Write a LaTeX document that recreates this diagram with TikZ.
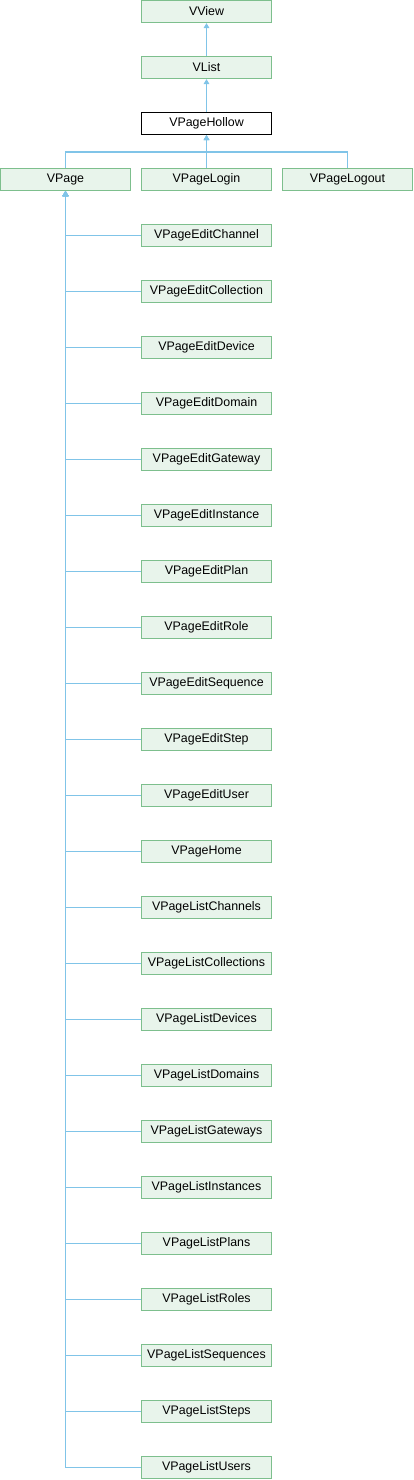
\documentclass[tikz,border=0pt]{standalone}
\usepackage{fontspec}
\setmainfont{Liberation Sans}
\usetikzlibrary{arrows.meta}
\definecolor{edgecol}{HTML}{80C4E8}
\definecolor{boxdraw}{HTML}{7DBF8D}
\definecolor{boxfill}{HTML}{E8F4EB}
\begin{document}
\begin{tikzpicture}[x=1pt,y=-1pt,
  cls/.style={draw=boxdraw,fill=boxfill,line width=1.1pt,minimum width=130pt,minimum height=22pt,inner sep=0pt,font=\fontsize{12.4}{14}\selectfont},
  hollow/.style={cls,draw=black,fill=white},
  edge/.style={draw=edgecol,line width=1.2pt,-{Triangle[length=5pt,width=5.5pt]}}]
\useasboundingbox (0,0) rectangle (413,1480);
\node[cls] (vview) at (206.5,11.5) {VView};
\node[cls] (vlist) at (206.5,67.5) {VList};
\node[hollow] (hollow) at (206.5,123.5) {VPageHollow};
\node[cls] (vpage) at (65.5,179.5) {VPage};
\node[cls] (login) at (206.5,179.5) {VPageLogin};
\node[cls] (logout) at (347.5,179.5) {VPageLogout};
\draw[edge] (vlist.north) -- (vview.south);
\draw[edge] (hollow.north) -- (vlist.south);
\draw[edge] (login.north) -- (hollow.south);
\draw[edge] (vpage.north) -- ++(0,-16) -| (hollow.south);
\draw[edge] (logout.north) -- ++(0,-16) -| (hollow.south);
\foreach \name [count=\i from 0] in {EditChannel,EditCollection,EditDevice,EditDomain,EditGateway,EditInstance,EditPlan,EditRole,EditSequence,EditStep,EditUser,Home,ListChannels,ListCollections,ListDevices,ListDomains,ListGateways,ListInstances,ListPlans,ListRoles,ListSequences,ListSteps,ListUsers}{
  \node[cls] (c\i) at (206.5,235.5+56*\i) {VPage\name};
  \draw[edge] (c\i.west) -| (vpage.south);
}
\end{tikzpicture}
\end{document}
